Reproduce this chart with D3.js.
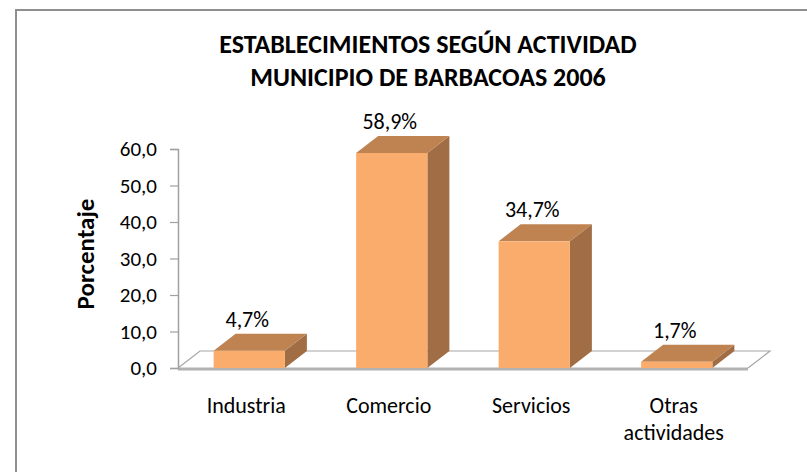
<!DOCTYPE html>
<meta charset="utf-8">
<head>
<title>Establecimientos</title>
<script src="https://d3js.org/d3.v7.min.js"></script>
<style>
  body { margin: 0; background: #fff; }
  text { font-family: Calibri, Carlito, "Open Sans", sans-serif; fill: #000; }
</style>
</head>
<body>
<svg id="chart" width="807" height="472"></svg>
<script>
// datos
var categorias = ["Industria", "Comercio", "Servicios", "Otras actividades"]
var porcentajes = [4.7, 58.9, 34.7, 1.7]
var ticksY = [0, 10, 20, 30, 40, 50, 60]
var titulo = ["ESTABLECIMIENTOS SEGÚN ACTIVIDAD", "MUNICIPIO DE BARBACOAS 2006"]

var svg = d3.select("#chart")

// marco del grafico (solo se ve arriba y a la izquierda)
svg.append("rect")
  .attr("x", 16).attr("y", 10)
  .attr("width", 820).attr("height", 490)
  .attr("fill", "none")
  .attr("stroke", "#8e8e8e")
  .attr("stroke-width", 2)

// titulo
svg.selectAll(".titulo")
  .data(titulo)
  .enter()
  .append("text")
  .attr("class", "titulo")
  .attr("x", 428)
  .attr("y", function(d, i) { return 53 + i * 33 })
  .attr("text-anchor", "middle")
  .style("font-weight", "bold")
  .style("font-size", "26px")
  .text(function(d) { return d })

var left = 178, right = 748, bottom = 368, plotTop = 149
var dx = 22, dy = -17   // profundidad 3D

var x = d3.scaleBand()
  .domain(categorias)
  .range([left, right])
  .paddingInner(0.5)
  .paddingOuter(0.25)

var y = d3.scaleLinear()
  .domain([0, 60])
  .range([bottom, plotTop])

// piso
svg.append("path")
  .attr("d", "M" + left + "," + bottom + "L" + (left + dx) + "," + (bottom + dy) +
             "L" + (right + dx) + "," + (bottom + dy) + "L" + right + "," + bottom)
  .attr("fill", "none")
  .attr("stroke", "#a6a6a6")
  .attr("stroke-width", 1.2)
svg.append("line")
  .attr("x1", left).attr("x2", right)
  .attr("y1", bottom + 1).attr("y2", bottom + 1)
  .attr("stroke", "#b2b2b2")
  .attr("stroke-width", 3)

// eje Y
var ejeY = svg.append("g")
  .attr("transform", "translate(" + left + ",0)")
  .call(d3.axisLeft(y).tickValues(ticksY).tickSize(8).tickPadding(13)
        .tickFormat(function(d) { return d3.format(".1f")(d).replace(".", ",") }))
ejeY.select(".domain").attr("stroke", "#a0a0a0").attr("stroke-width", 1.5)
ejeY.selectAll(".tick line").attr("stroke", "#a0a0a0").attr("stroke-width", 1.2)
ejeY.selectAll(".tick text")
  .style("font-size", "21px")
  .style("font-family", "Calibri, Carlito, 'Open Sans', sans-serif")
  .attr("fill", "#000")

svg.append("text")
  .attr("transform", "translate(94,254) rotate(-90)")
  .attr("text-anchor", "middle")
  .style("font-weight", "bold")
  .style("font-size", "25px")
  .text("Porcentaje")

// barras 3D
var barras = svg.selectAll(".barra")
  .data(porcentajes)
  .enter()
  .append("g")
  .attr("class", "barra")

barras.append("path")   // cara lateral
  .attr("d", function(d, i) {
    var x1 = x(categorias[i]) + x.bandwidth(), yv = y(d)
    return "M" + x1 + "," + yv + "L" + (x1 + dx) + "," + (yv + dy) +
           "L" + (x1 + dx) + "," + (bottom + dy) + "L" + x1 + "," + bottom + "Z"
  })
  .attr("fill", "#a06d45")

barras.append("path")   // cara superior
  .attr("d", function(d, i) {
    var x0 = x(categorias[i]), x1 = x0 + x.bandwidth(), yv = y(d)
    return "M" + x0 + "," + yv + "L" + (x0 + dx) + "," + (yv + dy) +
           "L" + (x1 + dx) + "," + (yv + dy) + "L" + x1 + "," + yv + "Z"
  })
  .attr("fill", "#bf8352")

barras.append("rect")   // cara frontal
  .attr("x", function(d, i) { return x(categorias[i]) })
  .attr("y", function(d) { return y(d) })
  .attr("width", x.bandwidth())
  .attr("height", function(d) { return bottom - y(d) })
  .attr("fill", "#f9ac6b")

barras.append("text")
  .attr("x", function(d, i) { return x(categorias[i]) + x.bandwidth() / 2 - 2 })
  .attr("y", function(d) { return y(d) + dy - 7 })
  .attr("text-anchor", "middle")
  .style("font-size", "22px")
  .text(function(d) { return d3.format(".1f")(d).replace(".", ",") + "%" })

// etiquetas de categoria
var etiquetas = svg.selectAll(".cat")
  .data(categorias)
  .enter()
  .append("text")
  .attr("class", "cat")
  .attr("text-anchor", "middle")
  .style("font-size", "22px")

etiquetas.selectAll("tspan")
  .data(function(d) {
    var c = x(d) + x.bandwidth() / 2 - 3
    return d.split(" ").map(function(p) { return {t: p, c: c} })
  })
  .enter()
  .append("tspan")
  .attr("x", function(d) { return d.c })
  .attr("y", function(d, i) { return 413 + i * 27 })
  .text(function(d) { return d.t })
</script>
</body>
